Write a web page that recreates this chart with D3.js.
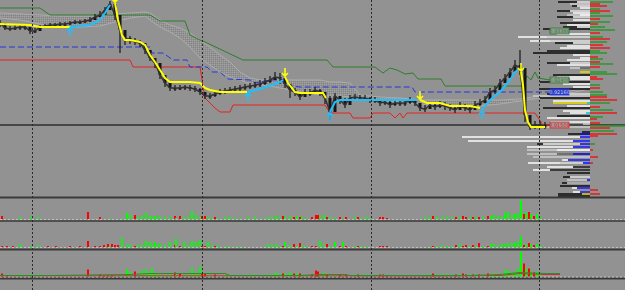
<!DOCTYPE html>
<html>
<head>
<meta charset="utf-8">
<script src="https://cdn.jsdelivr.net/npm/d3@7"></script>
<style>
  body { margin: 0; background: #929292; }
  svg { display: block; }
</style>
</head>
<body>
<svg id="chart" width="625" height="290"></svg>
<script>
// ---- data (bar index, 1 bar = 5px; prices) ----
const daySeps = [6.4, 40.4, 74.2, 107.8];

const closes = [.9354,.9344,.9342,.9344,.9346,.9346,.9338,.9338,.9346,.9348,
  .9350,.9350,.9352,.9352,.9354,.9356,.9356,.9358,.9360,.9366,
  .9370,.9380,.9392,.9370,.9340,.9324,.9320,.9316,.9314,.9300,
  .9284,.9274,.9250,.9234,.9224,.9224,.9224,.9226,.9224,.9222,
  .9216,.9208,.9208,.9212,.9216,.9218,.9220,.9222,.9224,.9226,
  .9228,.9230,.9232,.9236,.9240,.9246,.9244,.9232,.9220,.9216,
  .9206,.9214,.9214,.9220,.9216,.9204,.9176,.9208,.9200,.9190,
  .9204,.9206,.9204,.9204,.9200,.9200,.9194,.9196,.9190,.9194,
  .9194,.9194,.9200,.9194,.9184,.9182,.9190,.9186,.9190,.9188,
  .9184,.9180,.9188,.9184,.9180,.9190,.9194,.9200,.9216,.9220,
  .9234,.9244,.9256,.9270,.9264,.9170,.9146,.9150,.9150,.9148];
const highs = [.9360,.9352,.9348,.9350,.9350,.9350,.9346,.9344,.9350,.9352,
  .9354,.9354,.9356,.9356,.9358,.9360,.9360,.9362,.9366,.9372,
  .9378,.9386,.9398,.9394,.9364,.9336,.9328,.9324,.9320,.9310,
  .9294,.9284,.9268,.9246,.9232,.9230,.9230,.9230,.9230,.9228,
  .9224,.9216,.9214,.9218,.9222,.9224,.9226,.9228,.9230,.9232,
  .9234,.9236,.9240,.9244,.9248,.9256,.9254,.9242,.9230,.9224,
  .9216,.9222,.9222,.9226,.9222,.9214,.9208,.9214,.9208,.9204,
  .9210,.9212,.9210,.9210,.9206,.9206,.9202,.9202,.9198,.9200,
  .9200,.9200,.9206,.9202,.9194,.9190,.9196,.9194,.9198,.9196,
  .9192,.9188,.9196,.9192,.9190,.9198,.9202,.9208,.9224,.9228,
  .9242,.9252,.9264,.9280,.9300,.9260,.9160,.9158,.9158,.9156];
const lows = [.9346,.9340,.9338,.9340,.9340,.9340,.9332,.9334,.9340,.9344,
  .9346,.9346,.9348,.9348,.9350,.9352,.9352,.9354,.9356,.9360,
  .9366,.9372,.9384,.9360,.9294,.9310,.9312,.9310,.9306,.9292,
  .9278,.9264,.9242,.9226,.9218,.9218,.9220,.9220,.9218,.9216,
  .9210,.9202,.9202,.9206,.9210,.9212,.9214,.9216,.9218,.9220,
  .9222,.9224,.9226,.9230,.9234,.9240,.9232,.9224,.9204,.9208,
  .9200,.9206,.9208,.9212,.9208,.9192,.9160,.9198,.9192,.9184,
  .9196,.9200,.9198,.9198,.9194,.9194,.9188,.9190,.9184,.9188,
  .9188,.9188,.9192,.9188,.9178,.9176,.9182,.9180,.9184,.9180,
  .9178,.9174,.9180,.9178,.9174,.9182,.9188,.9194,.9206,.9212,
  .9224,.9236,.9246,.9260,.9250,.9156,.9140,.9142,.9144,.9142];

// trailing stop line, yellow = short, cyan = long
const trendSegs = [
  { dir: -1, pts: [[0,.9352],[6,.9350],[8,.9346],[14,.9346]] },
  { dir: 1,  pts: [[14,.9346],[18,.9350],[20,.9360],[21,.9374],[22,.9390]] },
  { dir: -1, pts: [[23,.9394],[23.6,.9360],[24.4,.9330],[25,.9320],[26,.9320],[28,.9316],[29,.9310],[30,.9290],[31,.9276],[32,.9260],[33,.9244],[34,.9236],[38,.9236],[40,.9234],[41,.9224],[42,.9220],[44,.9216],[49.4,.9216]] },
  { dir: 1,  pts: [[49.6,.9216],[52.6,.9224],[54.4,.9230],[56,.9236],[56.6,.9240]] },
  { dir: -1, pts: [[57,.9246],[57.6,.9234],[59,.9216],[60,.9214],[64.6,.9214],[65.2,.9204]] },
  { dir: 1,  pts: [[66,.9176],[67,.9196],[68,.9200],[83.4,.9200]] },
  { dir: -1, pts: [[84,.9200],[85.4,.9194],[88,.9194],[90,.9188],[94,.9188],[96,.9184]] },
  { dir: 1,  pts: [[96.4,.9180],[98,.9200],[100,.9216],[102,.9240],[103,.9256],[103.6,.9260]] },
  { dir: -1, pts: [[104.2,.9256],[104.6,.9230],[105,.9180],[105.6,.9156],[106.2,.9146],[109,.9146]] }
];
const arrowsUp = [[14,.9346],[49.6,.9216],[66,.9176],[96.4,.9180]];
const arrowsDown = [[23,.9394],[57,.9246],[84,.9200],[104.2,.9256]];

const resistance = [[0,.9384],[8,.9384],[10,.9370],[30,.9370],[32,.9358],[37,.9358],[38,.9330],[40,.9320],[41,.9316],[48.6,.9280],[65.4,.9280],[66.6,.9266],[75,.9266],[76.6,.9254],[78,.9264],[79.4,.9260],[81,.9252],[82.6,.9254],[83.6,.9242],[88.2,.9242],[89,.9228],[104.6,.9228],[105.4,.9248],[106.2,.9240],[107,.9256],[107.6,.9244],[110,.9240]];
const support = [[0,.9280],[26,.9280],[26.6,.9266],[40,.9266],[41,.9204],[43,.9184],[44,.9176],[46,.9176],[46.6,.9190],[65,.9190],[66,.9174],[70,.9174],[70.6,.9164],[74,.9164],[74.6,.9174],[78,.9174],[79,.9164],[80,.9174],[80.6,.9164],[81.4,.9174],[107,.9174],[108.6,.9150],[110,.9150]];
const midline = [[0,.9306],[30,.9306],[30.4,.9294],[32.6,.9294],[34.6,.9280],[37.4,.9280],[38,.9266],[41.4,.9266],[42.4,.9256],[44,.9256],[45.6,.9242],[50,.9240],[51,.9234],[54,.9240],[57,.9240],[58.4,.9228],[60,.9226],[82.4,.9226],[83,.9216],[110,.9216]];

const cloudT = [0,4,8,12,16,20,23,26,29,30,32,34,36,38,40,42,44,46,48,50,52,54,56,58,60,62,64,66,68,70,72,76,80,84,88,92,96,100,104,108,112,117];
const cloudTop = [.9374,.9372,.9370,.9368,.9368,.9368,.9372,.9374,.9376,.9374,.9360,.9350,.9344,.9334,.9320,.9306,.9290,.9276,.9256,.9244,.9240,.9240,.9240,.9240,.9240,.9240,.9240,.9236,.9236,.9234,.9210,.9206,.9204,.9200,.9200,.9200,.9200,.9200,.9202,.9208,.9214,.9224];
const cloudBot = [.9364,.9360,.9352,.9346,.9346,.9348,.9356,.9364,.9368,.9360,.9346,.9336,.9324,.9306,.9284,.9270,.9256,.9246,.9240,.9232,.9230,.9228,.9224,.9220,.9216,.9214,.9210,.9208,.9208,.9206,.9202,.9200,.9196,.9192,.9190,.9188,.9188,.9192,.9198,.9204,.9210,.9220];

const hLinePrice = .9150;
const levelPrices = [.9338, .9240, .9216, .9150];
const levelTexts = ["0.93380", "0.92400", "0.92160", "0.91500"];
const levelKinds = ["res", "res", "mid", "sup"];

// volume profile rows: [price, volume, kind]
const profileRows = [
  [.9396,32,"k"],[.9396,13,"w"],[.9392,20,"g"],[.9388,18,"k"],[.9388,13,"w"],[.9384,10,"w"],
  [.9378,33,"k"],[.9378,20,"w"],[.9374,17,"w"],[.9370,23,"g"],[.9370,10,"w"],[.9366,33,"k"],[.9366,17,"w"],
  [.9360,17,"w"],[.9354,30,"k"],[.9350,23,"w"],[.9346,27,"k"],[.9346,13,"w"],[.9342,47,"k"],
  [.9332,33,"w"],[.9326,72,"w"],[.9326,43,"g"],[.9318,60,"w"],[.9318,40,"g"],[.9314,35,"k"],[.9314,17,"w"],
  [.9308,23,"w"],[.9304,30,"w"],[.9298,43,"k"],[.9294,57,"k"],[.9290,17,"w"],[.9284,10,"w"],[.9280,23,"w"],
  [.9274,43,"k"],[.9274,20,"w"],[.9270,33,"w"],[.9264,20,"g"],[.9264,10,"d"],[.9256,10,"y"],[.9250,37,"k"],
  [.9246,33,"w"],[.9242,20,"w"],[.9236,50,"k"],[.9232,27,"w"],[.9226,17,"w"],[.9222,50,"k"],
  [.9212,43,"k"],[.9212,25,"w"],[.9208,57,"g"],[.9204,50,"k"],[.9198,37,"w"],[.9194,37,"y"],[.9194,3,"c"],
  [.9188,23,"w"],[.9184,47,"k"],[.9178,27,"w"],[.9174,20,"w"],[.9174,4,"c"],[.9168,33,"k"],[.9164,43,"w"],
  [.9156,40,"w"],[.9152,7,"g"],[.9146,43,"g"],[.9136,8,"k"],[.9132,22,"k"],[.9132,10,"b"],
  [.9126,128,"w"],[.9126,10,"b"],[.9118,122,"w"],[.9118,17,"b"],[.9112,53,"k"],[.9112,47,"w"],[.9112,10,"b"],
  [.9106,63,"w"],[.9106,17,"b"],[.9100,63,"g"],[.9100,33,"w"],[.9092,63,"g"],[.9092,33,"d"],[.9092,17,"b"],
  [.9086,57,"g"],[.9080,28,"w"],[.9080,22,"b"],[.9074,62,"w"],[.9074,30,"g"],[.9074,7,"b"],
  [.9066,43,"w"],[.9066,17,"k"],[.9060,57,"w"],[.9060,40,"k"],[.9054,23,"k"],[.9046,27,"k"],[.9046,20,"w"],
  [.9040,23,"g"],[.9040,3,"b"],[.9034,28,"k"],[.9034,23,"g"],[.9028,30,"k"],[.9024,18,"w"],[.9024,13,"b"],
  [.9016,17,"w"],[.9016,10,"b"],[.9012,32,"k"],[.9012,8,"y"],[.9008,32,"k"]
];
// buy/sell delta strip right of the profile: [price, volume, side]
const deltaRows = [
  [.9396,23,"g"],[.9392,10,"r"],[.9388,17,"r"],[.9382,10,"g"],[.9378,20,"r"],[.9374,10,"g"],[.9368,23,"g"],
  [.9362,10,"r"],[.9356,20,"g"],[.9352,8,"r"],[.9346,15,"g"],[.9340,25,"g"],[.9334,10,"r"],[.9326,13,"g"],
  [.9322,20,"r"],[.9316,17,"g"],[.9310,13,"r"],[.9304,20,"r"],[.9298,10,"g"],[.9294,17,"g"],[.9286,8,"r"],
  [.9282,13,"g"],[.9276,10,"r"],[.9272,23,"g"],[.9266,10,"r"],[.9256,17,"g"],[.9252,27,"g"],[.9246,7,"r"],
  [.9242,13,"r"],[.9230,10,"g"],[.9224,10,"r"],[.9216,13,"g"],[.9210,17,"g"],[.9206,17,"r"],[.9200,27,"r"],
  [.9194,20,"g"],[.9186,10,"r"],[.9180,23,"g"],[.9174,27,"r"],[.9166,13,"g"],[.9162,7,"r"],[.9154,10,"r"],
  [.9148,35,"g"],[.9144,20,"r"],[.9138,24,"g"],[.9132,27,"r"],[.9128,8,"r"],[.9112,5,"g"],[.9100,3,"r"],
  [.9086,8,"r"],[.9074,3,"r"],[.9020,8,"r"],[.9012,10,"r"]
];

// volume histograms: [bar, dir, panel1, panel2, panel3]
const volBars = [
  [0.4,-1,3,1,3],[1.4,-1,0,1,1],[2.6,-1,0,1,0],[4,1,2,3,2],[6.2,1,2,1,2],[7.6,1,2,2,2],[9.6,-1,0,1,0],
  [11.2,-1,0,1,0],[14,-1,0,1,0],[16,-1,0,1,0],[17.6,-1,7,6,7],[19,-1,0,1,0],[20,-1,2,1,2],[20.8,-1,0,2,1],
  [21.6,-1,0,3,1],[22,1,1,1,1],[22.4,-1,0,3,1],[23,-1,0,2,0],[23.6,-1,0,2,0],[24.4,1,1,9,2],[25.4,1,6,2,7],
  [26,1,4,3,5],[27,-1,4,1,5],[27.6,1,2,2,2],[28.4,1,3,2,6],[29.2,1,6,6,7],[30,1,3,5,4],[30.4,1,2,2,8],
  [31,1,3,5,3],[31.6,1,2,2,2],[32,1,2,3,2],[33,1,2,2,2],[34,1,2,5,3],[35,-1,3,2,4],[35.2,1,1,8,2],
  [36,-1,3,1,3],[36.8,1,2,5,2],[37.6,1,2,2,2],[38.4,1,8,6,8],[39.2,1,4,5,4],[40,1,2,7,10],[40.4,-1,3,1,3],
  [41,-1,3,1,3],[41.6,1,2,5,2],[42.4,1,1,2,1],[43,-1,2,1,2],[43.6,1,1,2,1],[45,1,2,1,2],[46,1,2,1,2],
  [47,1,1,0,1],[48,1,1,1,1],[49.6,1,2,0,2],[51,1,2,0,2],[52,1,1,0,1],[53.6,1,2,3,2],[54.4,1,2,2,2],
  [55.2,1,3,3,4],[56,1,2,1,2],[56.6,-1,3,1,3],[57,1,2,5,3],[58,1,3,2,4],[58.8,-1,2,3,3],[59.4,1,3,1,3],
  [60,-1,2,4,3],[60.4,1,2,2,2],[61.2,1,1,1,1],[62.4,-1,2,1,2],[63.2,-1,4,1,6],[63.6,-1,4,0,5],[64,1,2,6,2],
  [64.8,1,4,2,4],[65.4,-1,2,3,2],[66,1,2,1,2],[67,1,1,5,1],[68,-1,2,1,2],[68.6,1,1,5,1],[69.2,-1,2,1,2],
  [71,1,2,1,2],[71.6,-1,2,1,2],[72.4,1,1,1,1],[73.2,1,2,1,2],[74,1,1,0,1],[76,-1,2,1,2],[76.6,-1,2,1,2],
  [77.4,-1,1,1,1],[85,1,2,0,2],[86,1,2,1,2],[86.6,-1,3,1,3],[87.4,1,2,1,2],[88.4,1,2,2,2],[89.4,1,2,1,2],
  [90.4,1,2,1,2],[91.2,-1,2,2,2],[92,1,2,3,2],[92.6,-1,3,1,3],[93.2,-1,2,2,2],[94,1,2,1,2],[94.6,-1,2,2,2],
  [95.2,1,2,1,2],[95.8,-1,2,4,2],[96.6,1,2,1,2],[97.6,-1,3,1,3],[98.2,1,3,3,3],[98.8,1,4,3,3],[99.6,1,3,2,3],
  [100.4,1,2,3,2],[101,1,6,3,6],[101.6,1,7,4,6],[102.4,1,4,4,4],[103,1,5,4,5],[103.6,1,6,6,8],[104.2,1,19,11,25],
  [104.8,-1,5,2,13],[105.2,1,7,3,8],[105.8,-1,7,4,8],[106.2,1,5,3,5],[106.8,-1,3,2,4],[107.4,1,5,3,5],[108,1,3,2,3]
];
const volAvgUp = [[0,1],[10,1],[26,2],[30,3],[45,3],[46,1],[60,1],[64,2],[69,2],[70,1],[94,1],[100,2],[104,4],[109,3],[112,3]];
const volAvgDown = [[0,0.7],[60,0.7],[78,0.5],[89,0.5],[100,1],[104,3],[109,2],[112,2]];

// ---- scales ----
const svg = d3.select("#chart");
const x = d3.scaleLinear().domain([0, 125]).range([0, 625]);
const y = d3.scaleLinear().domain([0.9400, 0.9006]).range([0, 197]);
const profX = d3.scaleLinear().domain([0, 130]).range([590, 460]);
const deltaX = d3.scaleLinear().domain([0, 35]).range([590, 625]);
const volPanels = [
  d3.scaleLinear().domain([0, 20]).range([219, 199]),
  d3.scaleLinear().domain([0, 25]).range([247, 222]),
  d3.scaleLinear().domain([0, 26]).range([276.5, 250.5])
];

const colors = {
  bg: "#929292",
  bars: "#161616",
  up: "#1ec0ff",
  down: "#ffff00",
  res: "#2c7f2c",
  sup: "#e52222",
  mid: "#2238e0",
  cloud: "#acacac",
  sep: "#3a3a3a",
  volUp: "#00ff00",
  volDown: "#ff0000"
};
const profColors = { w: "#f4f4f4", k: "#141414", g: "#cacaca", d: "#5c5c5c", b: "#1010e6", y: "#e8d800", c: "#00c8f0" };

svg.append("rect").attr("width", 625).attr("height", 290).attr("fill", colors.bg);

// hatch pattern for the cloud
const defs = svg.append("defs");
const pat = defs.append("pattern").attr("id", "hatch").attr("width", 2).attr("height", 2)
  .attr("patternUnits", "userSpaceOnUse");
pat.append("rect").attr("width", 1).attr("height", 1).attr("fill", "#a6a6a6");
pat.append("rect").attr("x", 1).attr("y", 1).attr("width", 1).attr("height", 1).attr("fill", "#808080");

const line = d3.line().x(d => x(d[0])).y(d => y(d[1]));

// cloud
const cloudData = cloudT.map((t, i) => ({ t, a: cloudTop[i], b: cloudBot[i] }));
svg.append("path").datum(cloudData)
  .attr("d", d3.area().x(d => x(d.t)).y0(d => y(d.b)).y1(d => y(d.a)))
  .attr("fill", "url(#hatch)").attr("opacity", 0.8);
["a", "b"].forEach(k => {
  svg.append("path").datum(cloudData)
    .attr("d", d3.line().x(d => x(d.t)).y(d => y(d[k])))
    .attr("fill", "none").attr("stroke", colors.cloud).attr("stroke-width", 1);
});

// current price line
svg.append("line").attr("x1", 0).attr("x2", 625)
  .attr("y1", y(hLinePrice)).attr("y2", y(hLinePrice))
  .attr("stroke", "#2e2e2e").attr("stroke-width", 1.5);

// levels
svg.append("path").datum(resistance).attr("d", line)
  .attr("fill", "none").attr("stroke", colors.res).attr("stroke-width", 1);
svg.append("path").datum(support).attr("d", line)
  .attr("fill", "none").attr("stroke", colors.sup).attr("stroke-width", 1);
svg.append("path").datum(midline).attr("d", line)
  .attr("fill", "none").attr("stroke", colors.mid).attr("stroke-width", 1)
  .attr("stroke-dasharray", "6,3");

// volume profile
svg.append("g").selectAll("rect").data(profileRows).enter().append("rect")
  .attr("x", d => profX(d[1]))
  .attr("y", d => y(d[0]) - 0.8)
  .attr("width", d => 590 - profX(d[1]))
  .attr("height", 1.6)
  .attr("fill", d => profColors[d[2]]);
svg.append("g").selectAll("rect").data(deltaRows).enter().append("rect")
  .attr("x", 590)
  .attr("y", d => y(d[0]) - 0.8)
  .attr("width", d => deltaX(d[1]) - 590)
  .attr("height", 1.6)
  .attr("fill", d => d[2] === "g" ? "#2f9a2f" : "#e52222");

// price bars
const ohlc = closes.map((c, i) => ({ t: i, c, o: i ? closes[i - 1] : c, h: highs[i], l: lows[i] }));
const candles = svg.append("g");
candles.selectAll("line").data(ohlc).enter().append("line")
  .attr("x1", d => x(d.t)).attr("x2", d => x(d.t))
  .attr("y1", d => y(d.h)).attr("y2", d => y(d.l))
  .attr("stroke", colors.bars).attr("stroke-width", 1.2);
candles.selectAll("rect").data(ohlc).enter().append("rect")
  .attr("x", d => x(d.t) - 1.5)
  .attr("y", d => Math.min(y(d.o), y(d.c)))
  .attr("width", 3)
  .attr("height", d => Math.max(1.5, Math.abs(y(d.o) - y(d.c))))
  .attr("fill", colors.bars);
svg.append("path").datum(ohlc)
  .attr("d", d3.line().x(d => x(d.t)).y(d => y(d.c)))
  .attr("fill", "none").attr("stroke", "#333").attr("stroke-width", 1.5);

// trailing stop
trendSegs.forEach(s => {
  svg.append("path").datum(s.pts).attr("d", line)
    .attr("fill", "none")
    .attr("stroke", s.dir > 0 ? colors.up : colors.down)
    .attr("stroke-width", 2);
});
arrowsUp.forEach(d => {
  const px = x(d[0]), py = y(d[1]) + 1;
  svg.append("path")
    .attr("d", `M${px},${py + 8}L${px},${py}M${px - 3},${py + 3}L${px},${py}L${px + 3},${py + 3}`)
    .attr("fill", "none").attr("stroke", colors.up).attr("stroke-width", 1.6);
});
arrowsDown.forEach(d => {
  const px = x(d[0]), py = y(d[1]) - 1;
  svg.append("path")
    .attr("d", `M${px},${py - 8}L${px},${py}M${px - 3},${py - 3}L${px},${py}L${px + 3},${py - 3}`)
    .attr("fill", "none").attr("stroke", colors.down).attr("stroke-width", 1.6);
});

// level labels
levelPrices.forEach((p, i) => {
  const k = levelKinds[i];
  const g = svg.append("g");
  g.append("rect").attr("x", 550).attr("y", y(p) - 3).attr("width", 19).attr("height", 6)
    .attr("fill", k === "mid" ? "#2a3cc8" : "#9a9a9a")
    .attr("stroke", colors[k]).attr("stroke-width", 0.8);
  g.append("text").attr("x", 559.5).attr("y", y(p) + 2)
    .attr("text-anchor", "middle")
    .attr("font-family", "DejaVu Sans, sans-serif").attr("font-size", 5)
    .attr("fill", k === "mid" ? "#c8d0ff" : colors[k])
    .text(levelTexts[i]);
});

// panel separators and baselines
[[197.5, 2], [221, 1.5], [249.5, 2], [278.5, 2]].forEach(([yy, w]) => {
  svg.append("line").attr("x1", 0).attr("x2", 625).attr("y1", yy).attr("y2", yy)
    .attr("stroke", colors.sep).attr("stroke-width", w);
});
volPanels.forEach(vy => {
  svg.append("line").attr("x1", 0).attr("x2", 625).attr("y1", vy(0) + 0.5).attr("y2", vy(0) + 0.5)
    .attr("stroke", "#c0c0c0").attr("stroke-width", 1).attr("stroke-dasharray", "2,2");
});

// volume histograms
volPanels.forEach((vy, pi) => {
  svg.append("g").selectAll("rect").data(volBars.filter(d => d[2 + pi] > 0)).enter().append("rect")
    .attr("x", d => x(d[0]) - 1)
    .attr("y", d => vy(d[2 + pi]))
    .attr("width", 2)
    .attr("height", d => vy(0) - vy(d[2 + pi]))
    .attr("fill", d => d[1] > 0 ? colors.volUp : colors.volDown);
});
const vy3 = volPanels[2];
svg.append("path").datum(volAvgDown)
  .attr("d", d3.line().x(d => x(d[0])).y(d => vy3(d[1])))
  .attr("fill", "none").attr("stroke", "#c83232").attr("stroke-width", 1);
svg.append("path").datum(volAvgUp)
  .attr("d", d3.line().x(d => x(d[0])).y(d => vy3(d[1])))
  .attr("fill", "none").attr("stroke", "#2f8a2f").attr("stroke-width", 1);

// day separators
daySeps.forEach(t => {
  svg.append("line").attr("x1", x(t) + 0.5).attr("x2", x(t) + 0.5).attr("y1", 0).attr("y2", 290)
    .attr("stroke", "#2a2a2a").attr("stroke-width", 1).attr("stroke-dasharray", "2,2");
});
</script>
</body>
</html>
